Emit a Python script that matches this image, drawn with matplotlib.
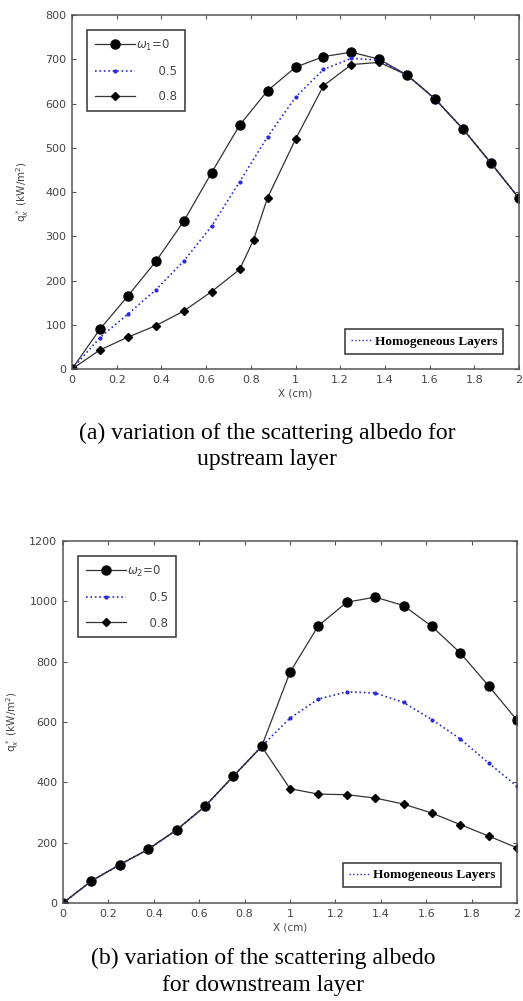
import matplotlib.pyplot as plt
from matplotlib.lines import Line2D

# данные
x = [0, 0.125, 0.25, 0.375, 0.5, 0.625, 0.75, 0.875, 1.0, 1.125, 1.25, 1.375, 1.5, 1.625, 1.75, 1.875, 2.0]
x_a08 = [0, 0.125, 0.25, 0.375, 0.5, 0.625, 0.75, 0.8125, 0.875, 1.0, 1.125, 1.25, 1.375, 1.5, 1.625, 1.75, 1.875, 2.0]

# (a) верхний слой
qa_w0 = [0, 90, 165, 243, 334, 444, 551, 629, 682, 706, 716, 700, 664, 610, 542, 465, 386]
qa_w05 = [0, 71, 124, 179, 244, 323, 423, 525, 614, 677, 702, 698, 664, 610, 542, 465, 386]
qa_w08 = [0, 43, 72, 98, 131, 175, 225, 292, 387, 519, 640, 688, 693, 664, 610, 542, 465, 386]

# (b) нижний слой
qb_w0 = [0, 73, 127, 178, 242, 320, 420, 519, 765, 919, 997, 1014, 986, 917, 829, 720, 606]
qb_w05 = [0, 73, 127, 178, 242, 320, 420, 519, 613, 676, 700, 696, 665, 608, 544, 464, 387]
qb_w08 = [0, 73, 127, 178, 242, 320, 420, 519, 379, 361, 359, 348, 328, 298, 260, 222, 183]

xticks = [0, 0.2, 0.4, 0.6, 0.8, 1, 1.2, 1.4, 1.6, 1.8, 2]
xticklabels = ['0', '0.2', '0.4', '0.6', '0.8', '1', '1.2', '1.4', '1.6', '1.8', '2']

W, H = 523, 1001
fig = plt.figure(figsize=(W / 100, H / 100), dpi=100)

lc = '#333333'
bc = '#2a2ad0'
tc = '#444444'


def draw(ax, w0, w05, x08, w08, ymax, sub, ylpad):
    ax.plot(x, w0, color=lc, lw=0.9, marker='o', ms=6.5, mfc='black', mec='black')
    ax.plot(x, w05, color=bc, lw=1.2, ls=':', marker='.', ms=4, mfc=bc, mec=bc)
    ax.plot(x08, w08, color=lc, lw=0.9, marker='D', ms=4.5, mfc='black', mec='black')
    ax.set_xlim(0, 2)
    ax.set_ylim(0, ymax)
    ax.set_xticks(xticks)
    ax.set_xticklabels(xticklabels)
    ax.tick_params(direction='in', length=3, width=0.8, top=True, right=True,
                   labelsize=8, labelcolor=tc, pad=4, color='#555555')
    for s in ax.spines.values():
        s.set_linewidth(1.1)
        s.set_color('#555555')
    ax.set_xlabel('X (cm)', fontsize=7.5, color=tc, labelpad=3)
    ax.set_ylabel('q$_x^*$ (kW/m$^2$)', fontsize=7.5, color=tc, labelpad=ylpad)

    h0 = Line2D([], [], color=lc, lw=0.9, marker='o', ms=6.5, mfc='black', mec='black')
    h05 = Line2D([], [], color=bc, lw=1.2, ls=':', marker='.', ms=4, mfc=bc, mec=bc)
    h08 = Line2D([], [], color=lc, lw=0.9, marker='D', ms=4.5, mfc='black', mec='black')
    leg = ax.legend([h0, h05, h08],
                    ['$\\omega_%s$=0' % sub, '      0.5', '      0.8'],
                    loc='upper left', bbox_to_anchor=(0.02, 0.975), fontsize=8.5,
                    handlelength=3.4, handletextpad=0.1, labelspacing=1.05,
                    fancybox=False, edgecolor='#333333', framealpha=1,
                    borderpad=0.65)
    leg.get_frame().set_linewidth(1.1)
    for t in leg.get_texts():
        t.set_color(tc)
    ax.add_artist(leg)

    hh = Line2D([], [], color=bc, lw=1.0, ls=':')
    leg2 = ax.legend([hh], ['Homogeneous Layers'], loc='lower right',
                     bbox_to_anchor=(0.98, 0.025),
                     prop={'family': 'Liberation Serif', 'weight': 'bold', 'size': 9.5},
                     handlelength=1.6, handletextpad=0.2, fancybox=False,
                     edgecolor='#333333', framealpha=1, borderpad=0.45)
    leg2.get_frame().set_linewidth(1.1)


ax1 = fig.add_axes([72 / W, 1 - 369 / H, (519 - 72) / W, (369 - 15) / H])
draw(ax1, qa_w0, qa_w05, x_a08, qa_w08, 800, '1', 10)

ax2 = fig.add_axes([63 / W, 1 - 903 / H, (517 - 63) / W, (903 - 541) / H])
draw(ax2, qb_w0, qb_w05, x, qb_w08, 1200, '2', 6)

cap = {'family': 'Liberation Serif', 'size': 17, 'ha': 'center', 'va': 'center'}
fig.text(267 / W, 1 - 433 / H, '(a) variation of the scattering albedo for', **cap)
fig.text(267 / W, 1 - 460 / H, 'upstream layer', **cap)
fig.text(263 / W, 1 - 958 / H, '(b) variation of the scattering albedo', **cap)
fig.text(263 / W, 1 - 985 / H, 'for downstream layer', **cap)

plt.savefig('out.png', dpi=100)
